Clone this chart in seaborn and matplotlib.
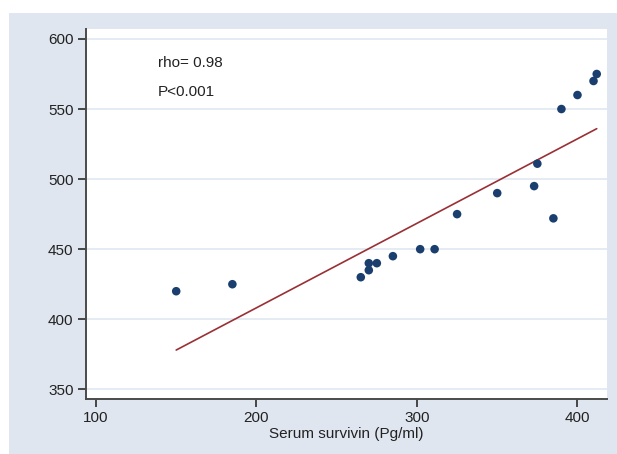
import matplotlib
matplotlib.use("Agg")
import matplotlib.pyplot as plt
import seaborn as sns
import numpy as np
import pandas as pd
from matplotlib.patches import Rectangle

survivin = [150, 185, 265, 270, 270, 275, 285, 302, 311, 325, 350, 373, 375, 385, 390, 400, 410, 412]
outcome = [420, 425, 430, 435, 440, 440, 445, 450, 450, 475, 490, 495, 511, 472, 550, 560, 570, 575]
x_ticks = [100, 200, 300, 400]
y_ticks = [350, 400, 450, 500, 550, 600]
x_label = "Serum survivin (Pg/ml)"
annot = ["rho= 0.98", "P<0.001"]

df = pd.DataFrame({"x": survivin, "y": outcome})

sns.set_theme(style="white", rc={"xtick.bottom": True, "ytick.left": True,
                                 "xtick.major.size": 6, "ytick.major.size": 6})
plt.rcParams['font.family'] = ['Liberation Sans', 'DejaVu Sans']

W, H = 617, 454
fig = plt.figure(figsize=(W / 100, H / 100), dpi=100)
fig.patch.set_facecolor("white")
bg = Rectangle((9 / W, 0), 1 - 9 / W, 1 - 13 / H, transform=fig.transFigure,
               facecolor="#dfe6ef", edgecolor="none", zorder=-10)
fig.add_artist(bg)

left, right, top, bottom = 86, 607, 29, 399
ax = fig.add_axes([left / W, 1 - bottom / H, (right - left) / W, (bottom - top) / H])
ax.set_zorder(1)
ax.set_facecolor("white")

sns.regplot(data=df, x="x", y="y", ax=ax, ci=None, truncate=True,
            scatter_kws=dict(s=38, color="#1a3f6f", edgecolors="none", alpha=1, zorder=3),
            line_kws=dict(color="#9a3035", lw=1.2, zorder=2))

ax.set_xlim(93.8, 418.4)
ax.set_ylim(343.1, 607.1)
ax.set_xticks(x_ticks)
ax.set_yticks(y_ticks)
ax.set_xticklabels([str(v) for v in x_ticks], fontsize=11, color="#222222")
ax.set_yticklabels([str(v) for v in y_ticks], fontsize=11, color="#222222")
ax.yaxis.grid(True, color="#e0e7f0", lw=1.2)
ax.xaxis.grid(False)
ax.set_axisbelow(True)
for s in ["top", "right"]:
    ax.spines[s].set_visible(False)
for s in ["left", "bottom"]:
    ax.spines[s].set_color("#4a4a4a")
    ax.spines[s].set_linewidth(1.4)
ax.tick_params(axis="both", which="major", direction="out", length=6, width=1.3,
               color="#3a3a3a", left=True, bottom=True, pad=3)
ax.set_xlabel(x_label, fontsize=11, color="#222222", labelpad=1)
ax.set_ylabel("")

ax.text(138.7, 583, annot[0], fontsize=11, color="#222222", va="center", ha="left")
ax.text(138.7, 562.4, annot[1], fontsize=11, color="#222222", va="center", ha="left")

fig.savefig("out.png", dpi=100, facecolor=fig.get_facecolor())
